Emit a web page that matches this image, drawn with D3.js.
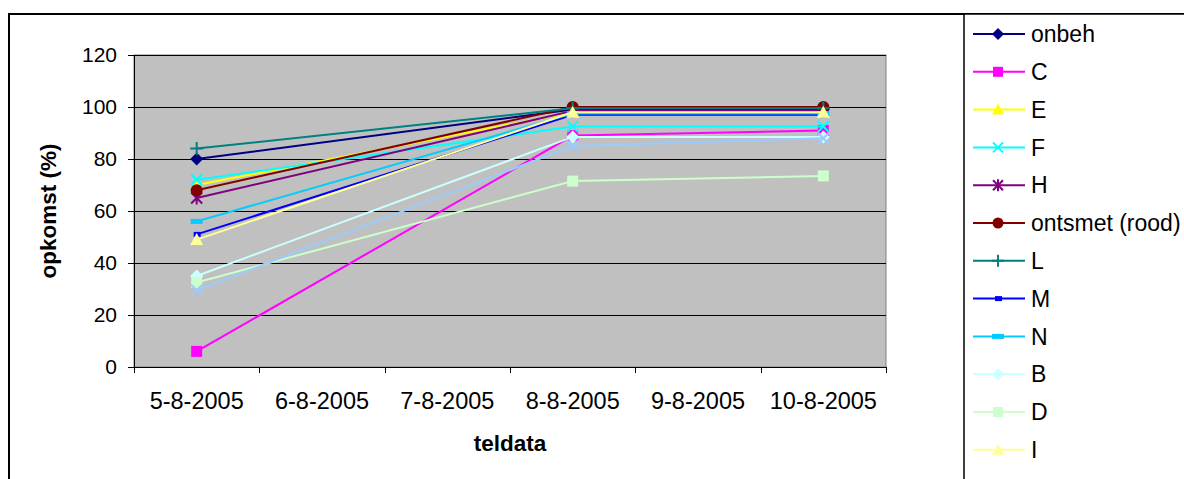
<!DOCTYPE html>
<html>
<head>
<meta charset="utf-8">
<script src="https://cdn.jsdelivr.net/npm/d3@7"></script>
<style>
  body { margin: 0; background: #fff; }
  svg { font-family: "Liberation Sans", Arial, sans-serif; }
</style>
</head>
<body>
<div id="chart"></div>
<script>
// categories (x) and the series
var dates = ["5-8-2005", "6-8-2005", "7-8-2005", "8-8-2005", "9-8-2005", "10-8-2005"];
var yTicks = [0, 20, 40, 60, 80, 100, 120];

var names   = ["onbeh", "C", "E", "F", "H", "ontsmet (rood)", "L", "M", "N", "B", "D", "I", "G"];
var colors  = ["#000080", "#FF00FF", "#FFFF00", "#00FFFF", "#800080", "#800000", "#008080",
               "#0000FF", "#00CCFF", "#CCFFFF", "#CCFFCC", "#FFFF99", "#99CCFF"];
var markers = ["diamond", "square", "triangle", "x", "star", "circle", "plus",
               "dashS", "dashL", "diamond", "square", "triangle", "x"];

// only measured on 5-8, 8-8 and 10-8
var onbeh   = [80,   null, null, 99,   null, 99];
var C       = [6,    null, null, 89,   null, 91];
var E       = [70,   null, null, 98,   null, 98];
var F       = [72,   null, null, 92.5, null, 92.5];
var H       = [65,   null, null, 98.5, null, 98.5];
var ontsmet = [68,   null, null, 100,  null, 100];
var L       = [84,   null, null, 99.5, null, 99.5];
var M       = [51,   null, null, 97,   null, 97];
var N       = [56,   null, null, 97.5, null, 97.5];
var B       = [35,   null, null, 88.5, null, 88.5];
var D       = [32.5, null, null, 71.5, null, 73.5];
var I       = [49,   null, null, 98,   null, 98];
var G       = [29.5, null, null, 85,   null, 88];
var seriesValues = [onbeh, C, E, F, H, ontsmet, L, M, N, B, D, I, G];

var W = 1184, H_ = 479;
var plot = {left: 134, top: 55, right: 886, bottom: 367};

var svg = d3.select("#chart").append("svg")
  .attr("width", W).attr("height", H_);

// chart frame
svg.append("rect").attr("x", 9).attr("y", 14).attr("width", W + 20).attr("height", H_ + 20)
  .attr("fill", "#fff").attr("stroke", "#000").attr("stroke-width", 2);

var x = d3.scaleBand().domain(dates).range([plot.left, plot.right]).padding(0);
var y = d3.scaleLinear().domain([0, 120]).range([plot.bottom, plot.top]);

// plot area
svg.append("rect")
  .attr("x", plot.left).attr("y", plot.top)
  .attr("width", plot.right - plot.left).attr("height", plot.bottom - plot.top)
  .attr("fill", "#C0C0C0").attr("stroke", "#808080").attr("stroke-width", 1);

// gridlines
svg.append("g").selectAll("line").data(yTicks.filter(function (d) { return d > 0; })).enter()
  .append("line")
  .attr("x1", plot.left).attr("x2", plot.right)
  .attr("y1", function (d) { return Math.round(y(d)) + 0.5; })
  .attr("y2", function (d) { return Math.round(y(d)) + 0.5; })
  .attr("stroke", "#000").attr("stroke-width", 1);

// y axis
var yAxis = d3.axisLeft(y).tickValues(yTicks).tickSize(6).tickPadding(11);
var gy = svg.append("g").attr("transform", "translate(" + plot.left + ",0)").call(yAxis);
gy.select(".domain").attr("stroke", "#000");
gy.selectAll(".tick line").attr("stroke", "#000");
gy.selectAll("text").attr("font-size", 21).attr("fill", "#000")
  .attr("font-family", "Liberation Sans, Arial, sans-serif");

// x axis: labels centered in bands, ticks between categories
var xAxis = d3.axisBottom(x).tickSize(0).tickPadding(25);
var gx = svg.append("g").attr("transform", "translate(0," + plot.bottom + ")").call(xAxis);
gx.select(".domain").remove();
gx.selectAll("text").attr("font-size", 23.5).attr("fill", "#000")
  .attr("font-family", "Liberation Sans, Arial, sans-serif");
svg.append("line").attr("x1", plot.left).attr("x2", plot.right)
  .attr("y1", plot.bottom + 0.5).attr("y2", plot.bottom + 0.5).attr("stroke", "#000");
var bounds = dates.map(function (d) { return x(d); }).concat([plot.right]);
svg.append("g").selectAll("line").data(bounds).enter().append("line")
  .attr("x1", function (d) { return Math.round(d) + 0.5; })
  .attr("x2", function (d) { return Math.round(d) + 0.5; })
  .attr("y1", plot.bottom).attr("y2", plot.bottom + 6).attr("stroke", "#000");

// axis titles
svg.append("text")
  .attr("x", (plot.left + plot.right) / 2).attr("y", 451)
  .attr("text-anchor", "middle").attr("font-weight", "bold").attr("font-size", 22.5)
  .text("teldata");
svg.append("text")
  .attr("transform", "translate(56," + (plot.top + plot.bottom) / 2 + ") rotate(-90)")
  .attr("text-anchor", "middle").attr("font-weight", "bold").attr("font-size", 22.5)
  .text("opkomst (%)");

// marker drawing
function drawMarker(g, type, color, s) {
  var h = s / 2;
  if (type === "diamond") {
    g.append("path").attr("d", "M0," + (-h - 1) + "L" + (h + 1) + ",0L0," + (h + 1) + "L" + (-h - 1) + ",0Z").attr("fill", color);
  } else if (type === "square") {
    g.append("rect").attr("x", -h).attr("y", -h).attr("width", s).attr("height", s).attr("fill", color);
  } else if (type === "triangle") {
    g.append("path").attr("d", "M0," + (-h - 1) + "L" + (h + 1) + "," + (h) + "L" + (-h - 1) + "," + (h) + "Z").attr("fill", color);
  } else if (type === "x") {
    g.append("path").attr("d", "M" + (-h) + "," + (-h) + "L" + h + "," + h + "M" + (-h) + "," + h + "L" + h + "," + (-h))
      .attr("stroke", color).attr("stroke-width", 2).attr("fill", "none");
  } else if (type === "star") {
    g.append("path").attr("d", "M" + (-h) + "," + (-h) + "L" + h + "," + h + "M" + (-h) + "," + h + "L" + h + "," + (-h) + "M0," + (-h - 1) + "L0," + (h + 1))
      .attr("stroke", color).attr("stroke-width", 2).attr("fill", "none");
  } else if (type === "circle") {
    g.append("circle").attr("r", h + 0.5).attr("fill", color);
  } else if (type === "plus") {
    g.append("path").attr("d", "M" + (-h - 1) + ",0L" + (h + 1) + ",0M0," + (-h - 1) + "L0," + (h + 1))
      .attr("stroke", color).attr("stroke-width", 2).attr("fill", "none");
  } else if (type === "dashS") {
    g.append("rect").attr("x", -3).attr("y", -2.5).attr("width", 7).attr("height", 5).attr("fill", color);
  } else if (type === "dashL") {
    g.append("rect").attr("x", -6).attr("y", -2.5).attr("width", 12).attr("height", 5).attr("fill", color);
  }
}

var line = d3.line()
  .x(function (d) { return x(d.date) + x.bandwidth() / 2; })
  .y(function (d) { return y(d.value); });

var series = names.map(function (n, i) {
  var pts = [];
  seriesValues[i].forEach(function (v, j) {
    if (v !== null) pts.push({date: dates[j], value: v});
  });
  return {name: n, color: colors[i], marker: markers[i], points: pts};
});

var gSeries = svg.append("g");
series.forEach(function (s) {
  var g = gSeries.append("g");
  g.append("path").datum(s.points).attr("d", line)
    .attr("fill", "none").attr("stroke", s.color).attr("stroke-width", 2);
  s.points.forEach(function (p) {
    var m = g.append("g").attr("transform",
      "translate(" + (x(p.date) + x.bandwidth() / 2) + "," + y(p.value) + ")");
    drawMarker(m, s.marker, s.color, 11);
  });
});

// legend
svg.append("rect").attr("x", 964).attr("y", 14).attr("width", 300).attr("height", 600)
  .attr("fill", "#fff").attr("stroke", "#000").attr("stroke-width", 1.5);
var leg = svg.append("g").selectAll("g").data(series).enter().append("g")
  .attr("transform", function (d, i) { return "translate(0," + (34 + i * 37.8) + ")"; });
leg.append("line").attr("x1", 973).attr("x2", 1025).attr("y1", 0).attr("y2", 0)
  .attr("stroke", function (d) { return d.color; }).attr("stroke-width", 2);
leg.each(function (d) {
  var m = d3.select(this).append("g").attr("transform", "translate(998,0)");
  drawMarker(m, d.marker, d.color, 10);
});
leg.append("text").attr("x", 1031).attr("y", 0).attr("dy", "0.36em")
  .attr("font-size", 23).text(function (d) { return d.name; });
</script>
</body>
</html>
